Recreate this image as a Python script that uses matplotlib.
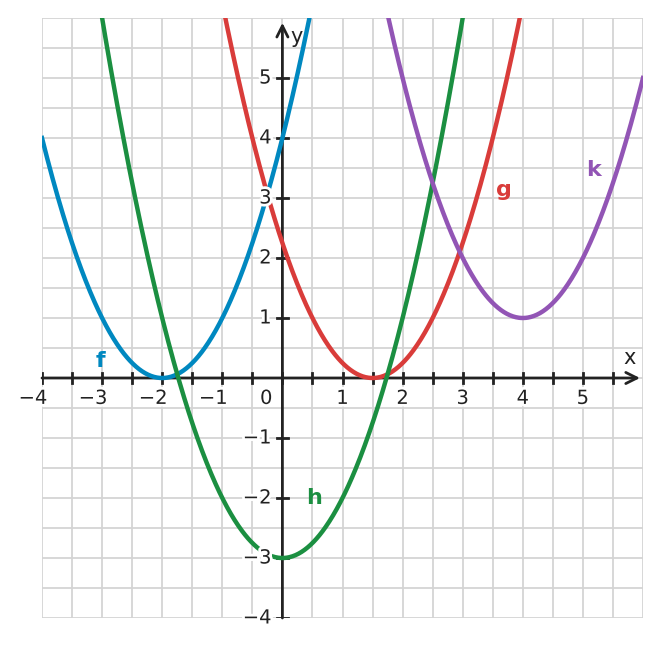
import numpy as np
import matplotlib.pyplot as plt
import matplotlib.patheffects as pe

# Paraboles y = (x - a)^2 + b
names = ['f', 'g', 'h', 'k']
vertex_x = [-2, 1.5, 0, 4]
vertex_y = [0, 0, -3, 1]
colors = ['#0088c0', '#d93c3a', '#1b8f41', '#9255b5']
label_pos = [(-3.03, 0.28), (3.68, 3.13), (0.52, -2.0), (5.17, 3.47)]

xticks = [-4, -3, -2, -1, 1, 2, 3, 4, 5]
yticks = [-4, -3, -2, -1, 1, 2, 3, 4, 5]

fig = plt.figure(figsize=(6.61, 6.48), dpi=100)
ax = fig.add_axes([42/661, 30/648, 601/661, 600/648])
ax.set_xlim(-4, 6)
ax.set_ylim(-4, 6)
ax.set_axis_off()

# grille
for v in np.arange(-4, 6.01, 0.5):
    ax.axvline(v, color='#d4d4d4', lw=1.3, zorder=0)
    ax.axhline(v, color='#d4d4d4', lw=1.3, zorder=0)

# axes
ax.annotate('', xy=(5.95, 0), xytext=(-4, 0),
            arrowprops=dict(arrowstyle='->', lw=2, color='#222222',
                            mutation_scale=20, shrinkA=0, shrinkB=0), zorder=2)
ax.annotate('', xy=(0, 5.92), xytext=(0, -4),
            arrowprops=dict(arrowstyle='->', lw=2, color='#222222',
                            mutation_scale=20, shrinkA=0, shrinkB=0), zorder=2)

# graduations
for v in np.arange(-4, 5.51, 0.5):
    ax.plot([v, v], [-0.09, 0.09], color='#222222', lw=2, zorder=2)
for v in yticks:
    ax.plot([-0.09, 0.09], [v, v], color='#222222', lw=2, zorder=2)

halo = [pe.withStroke(linewidth=4, foreground='white')]
for v in xticks:
    # le chiffre est centre sur la graduation, le signe moins deborde a gauche
    if v < 0:
        ax.text(v + 0.09, -0.34, '\u2212%d' % -v, ha='right', va='center',
                fontsize=14, color='#222222', path_effects=halo, zorder=4)
    else:
        ax.text(v, -0.34, str(v), ha='center', va='center',
                fontsize=14, color='#222222', path_effects=halo, zorder=4)
ax.text(-0.27, -0.34, '0', ha='center', va='center', fontsize=14, color='#222222',
        path_effects=halo, zorder=4)
for v in yticks:
    ax.text(-0.18, v, '\u2212%d' % -v if v < 0 else str(v), ha='right', va='center',
            fontsize=14, color='#222222', path_effects=halo, zorder=4)

ax.text(5.77, 0.33, 'x', ha='center', va='center', fontsize=15, color='#222222')
ax.text(0.23, 5.68, 'y', ha='center', va='center', fontsize=15, color='#222222')

# courbes
x = np.linspace(-4, 6, 800)
for n, a, b, c, (lx, ly) in zip(names, vertex_x, vertex_y, colors, label_pos):
    ax.plot(x, (x - a) ** 2 + b, color=c, lw=3.2, zorder=3)
    ax.text(lx, ly, n, color=c, fontsize=16, fontweight='bold', ha='center', va='center', zorder=5)

fig.savefig('out.png', dpi=100)
